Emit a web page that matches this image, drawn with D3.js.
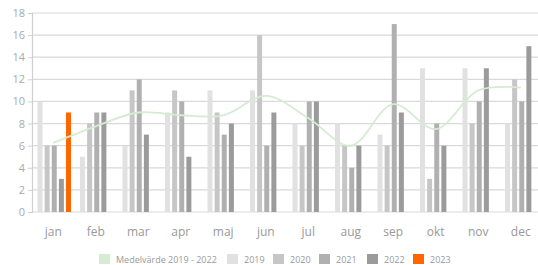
<!DOCTYPE html>
<html>
<head>
<meta charset="utf-8">
<script src="https://cdn.jsdelivr.net/npm/d3@7"></script>
<style>
  body { margin: 0; background: #fff; }
  svg { display: block; font-family: "Open Sans", sans-serif; }
</style>
</head>
<body>
<svg id="chart" width="538" height="265"></svg>
<script>
// data
let months = ['jan', 'feb', 'mar', 'apr', 'maj', 'jun', 'jul', 'aug', 'sep', 'okt', 'nov', 'dec'];
let years = ['2019', '2020', '2021', '2022', '2023'];
let v2019 = [10, 5, 6, 9, 11, 11, 8, 8, 7, 13, 13, 8];
let v2020 = [6, 8, 11, 11, 9, 16, 6, 6, 6, 3, 8, 12];
let v2021 = [6, 9, 12, 10, 7, 6, 10, 4, 17, 8, 10, 10];
let v2022 = [3, 9, 7, 5, 8, 9, 10, 6, 9, 6, 13, 15];
let v2023 = [9];
let avg = [6.25, 7.75, 9, 8.75, 8.75, 10.5, 8.5, 6, 9.75, 7.5, 11, 11.25];
let yTicks = [0, 2, 4, 6, 8, 10, 12, 14, 16, 18];

let colors = {'2019': '#e1e1e1', '2020': '#c6c6c6', '2021': '#b0b0b0', '2022': '#9b9b9b', '2023': '#ff6600'};
let avgColor = '#d5ebd2';

let series = {'2019': v2019, '2020': v2020, '2021': v2021, '2022': v2022, '2023': v2023};

let svg = d3.select('#chart');

let x = d3.scaleBand()
    .domain(months)
    .range([32, 542])
    .paddingInner(0)
    .paddingOuter(0);

let xInner = d3.scaleBand()
    .domain(years)
    .range([5.5, 39])
    .paddingInner(0.3);

let y = d3.scaleLinear()
    .domain([0, 18])
    .range([212, 13]);

// gridlines
svg.append('g')
    .selectAll('line')
    .data(yTicks)
    .enter()
    .append('line')
    .attr('x1', 32)
    .attr('x2', 538)
    .attr('y1', d => y(d))
    .attr('y2', d => y(d))
    .attr('stroke', '#d9d9d9')
    .attr('stroke-width', 1.2);

// y axis
let yAxis = svg.append('g')
    .attr('transform', 'translate(32,0)')
    .call(d3.axisLeft(y).tickValues(yTicks).tickSize(4));
yAxis.select('.domain').attr('stroke', '#d0d0d0').attr('stroke-width', 1.2);
yAxis.selectAll('.tick line').attr('stroke', '#d0d0d0');
yAxis.selectAll('text')
    .attr('fill', '#aaaaaa')
    .attr('font-size', 11)
    .attr('font-family', '"Open Sans", sans-serif');

// bars
let groups = svg.append('g')
    .selectAll('g')
    .data(months)
    .enter()
    .append('g')
    .attr('transform', d => `translate(${x(d)},0)`);

groups.each(function(m, i){
    let g = d3.select(this);
    years.forEach(function(yr){
        let val = series[yr][i];
        if (val === undefined) return;
        g.append('rect')
            .attr('x', xInner(yr))
            .attr('width', xInner.bandwidth())
            .attr('y', y(val))
            .attr('height', y(0) - y(val))
            .attr('fill', colors[yr]);
    });
});

// average line
let line = d3.line()
    .x((d, i) => x(months[i]) + x.bandwidth() / 2)
    .y(d => y(d))
    .curve(d3.curveCatmullRom);

svg.append('path')
    .datum(avg)
    .attr('d', line)
    .attr('fill', 'none')
    .attr('stroke', avgColor)
    .attr('stroke-width', 1.8);

// x labels
svg.append('g')
    .selectAll('text')
    .data(months)
    .enter()
    .append('text')
    .attr('x', d => x(d) + x.bandwidth() / 2)
    .attr('y', 236)
    .attr('text-anchor', 'middle')
    .attr('font-size', 12)
    .attr('fill', '#999999')
    .text(d => d);

// legend
let legendItems = [
    {label: 'Medelvärde 2019 - 2022', color: avgColor, x: 99},
    {label: '2019', color: colors['2019'], x: 227},
    {label: '2020', color: colors['2020'], x: 273},
    {label: '2021', color: colors['2021'], x: 319},
    {label: '2022', color: colors['2022'], x: 367},
    {label: '2023', color: colors['2023'], x: 413}
];

let legend = svg.append('g')
    .selectAll('g')
    .data(legendItems)
    .enter()
    .append('g')
    .attr('transform', d => `translate(${d.x},254)`);

legend.append('rect')
    .attr('width', 11)
    .attr('height', 10)
    .attr('fill', d => d.color);

legend.append('text')
    .attr('x', 17)
    .attr('y', 8.5)
    .attr('font-size', 9)
    .attr('fill', '#999999')
    .text(d => d.label);
</script>
</body>
</html>
